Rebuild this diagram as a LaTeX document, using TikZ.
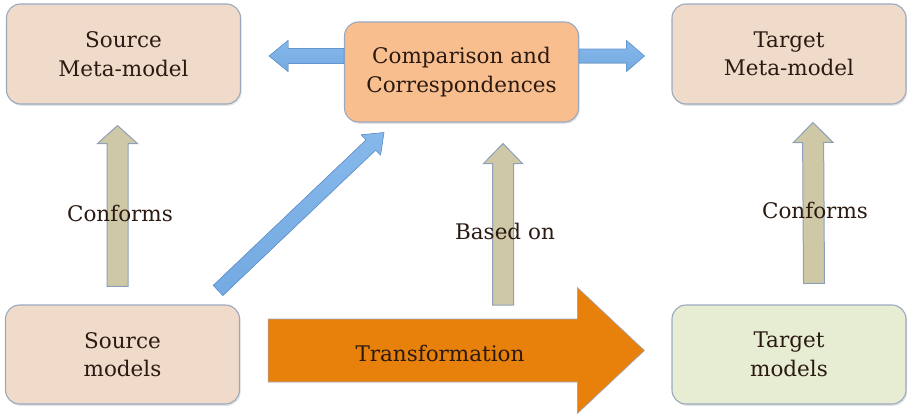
\documentclass[tikz,border=0pt]{standalone}
\usepackage{fontspec}
\setmainfont{DejaVu Serif}
\usetikzlibrary{calc,shadows}

\definecolor{boxpeach}{HTML}{F0DACA}
\definecolor{boxorange}{HTML}{F9BE8E}
\definecolor{boxgreen}{HTML}{E6EDD3}
\definecolor{boxline}{HTML}{9BA9BF}
\definecolor{arrblue}{HTML}{74AAE2}
\definecolor{arrbluetop}{HTML}{86B8EA}
\definecolor{arrblueline}{HTML}{6396D0}
\definecolor{arrbeige}{HTML}{CEC8A6}
\definecolor{arrbeigeline}{HTML}{8E9FBA}
\definecolor{arrorange}{HTML}{E8800C}
\definecolor{inkbrown}{HTML}{2B1A12}

% block arrow: style, start, tip, shaft half width, head half width, head length
\newcommand\blockarrow[6]{%
  \coordinate (ba-s) at #2;
  \coordinate (ba-e) at #3;
  \coordinate (ba-h) at ($(ba-e)!#6!(ba-s)$);
  \filldraw[#1] ($(ba-s)!#4!90:(ba-e)$) -- ($(ba-h)!#4!-90:(ba-s)$)
    -- ($(ba-h)!#5!-90:(ba-s)$) -- (ba-e) -- ($(ba-h)!#5!90:(ba-s)$)
    -- ($(ba-h)!#4!90:(ba-s)$) -- ($(ba-s)!#4!-90:(ba-e)$) -- cycle;}

\tikzset{
  block/.style={draw=boxline, line width=1.1pt, rounded corners=14pt,
    minimum width=234pt, minimum height=100pt, align=center,
    font=\fontsize{21.5}{28.5}\selectfont, text=inkbrown,
    drop shadow={opacity=0.22, shadow xshift=1.2pt, shadow yshift=-1.8pt}},
  lbl/.style={font=\fontsize{21.5}{28.5}\selectfont, text=inkbrown},
  bluearrow/.style={top color=arrbluetop, bottom color=arrblue, draw=arrblueline, line width=0.6pt},
  beigearrow/.style={fill=arrbeige, draw=arrbeigeline, line width=1pt},
  bigarrow/.style={fill=arrorange, draw=boxline, line width=0.6pt},
}

\begin{document}
\begin{tikzpicture}[x=1pt, y=-1pt]
\useasboundingbox (0,0) rectangle (910,415);

% blocks
\node[block, fill=boxpeach] (smm) at (123.5,54) {Source\\Meta-model};
\node[block, fill=boxorange] (cmp) at (461.5,72) {Comparison and\\Correspondences};
\node[block, fill=boxpeach] (tmm) at (789,54) {Target\\Meta-model};
\node[block, fill=boxpeach, minimum height=99pt] (sm) at (122.5,354.5) {Source\\models};
\node[block, fill=boxgreen, minimum height=99pt] (tm) at (789,354.5) {Target\\models};

% comparison feeds both meta-models
\blockarrow{bluearrow}{($(cmp.west)+(0,-16)$)}{($(smm.east)+(28,2)$)}{7.5pt}{15.5pt}{19pt}
\blockarrow{bluearrow}{($(cmp.east)+(0,-16)$)}{($(tmm.west)+(-27,2)$)}{7pt}{15.5pt}{18pt}

% source models towards comparison
\blockarrow{bluearrow}{($(sm.north east)+(-22,-14)$)}{($(cmp.south west)+(40,10)$)}{7pt}{14pt}{18pt}

% conformance arrows
\blockarrow{beigearrow}{($(sm.north)+(-5,-18)$)}{($(smm.south)+(-6,21)$)}{10.5pt}{20pt}{18pt}
\blockarrow{beigearrow}{($(tm.north)+(25,-21)$)}{($(tmm.south)+(24,18)$)}{10.5pt}{20pt}{20pt}

% based on
\coordinate (basefoot) at (503,305);
\blockarrow{beigearrow}{(basefoot)}{($(cmp.south)+(41.5,21)$)}{10.5pt}{19.5pt}{20pt}

% transformation
\blockarrow{bigarrow}{($(sm.east)+(28,-4)$)}{($(tm.west)+(-27,-4)$)}{31.5pt}{63pt}{67pt}

% labels
\node[lbl] (lconf) at (120,213) {Conforms};
\node[lbl] (rconf) at (815,210) {Conforms};
\node[lbl] (based) at (505,231) {Based on};
\node[lbl] (trans) at (440,353) {Transformation};
\end{tikzpicture}
\end{document}
